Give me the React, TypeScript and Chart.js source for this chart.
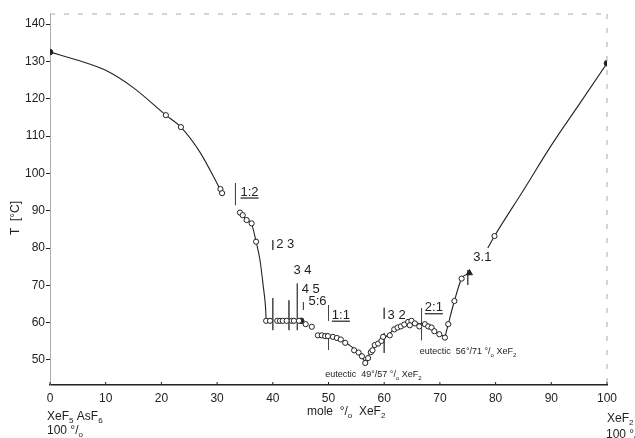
import React, { useEffect, useRef } from "react";
import { Chart, registerables } from "chart.js";
Chart.register(...registerables);

const FAMILY = "'Liberation Sans Narrow', 'Liberation Sans', 'DejaVu Sans', sans-serif";

const xTicks = [0, 10, 20, 30, 40, 50, 60, 70, 80, 90, 100];
const yTicks = [50, 60, 70, 80, 90, 100, 110, 120, 130, 140];

// liquidus curve traces
const curveAX = [0, 5, 10, 15, 20.8, 23.5, 27, 30.7];
const curveAY = [132.5, 130.3, 127.6, 122.9, 115.6, 112.4, 105.5, 95.3];
const curveBX = [34.3, 35.3, 36.2, 37, 37.7, 38.3, 38.7, 38.8];
const curveBY = [89.3, 87.5, 86.4, 81.7, 76.8, 69.6, 64, 60.8];
const curveC1X = [48, 50, 52, 54, 55.5, 56.6];
const curveC1Y = [56.8, 56.4, 55.6, 53.7, 51.8, 49.4];
const curveC2X = [56.6, 57.5, 59, 60.5, 62, 63.5, 65, 66.5, 68, 69.5, 70.9];
const curveC2Y = [49.4, 52, 54.6, 56.5, 58.4, 59.6, 60.1, 59.7, 58.8, 57.4, 56.1];
const curveC3X = [70.9, 71.5, 72.6, 73.9, 75.3];
const curveC3Y = [56.1, 59.6, 65.8, 71.8, 73.3];
const curveDX = [78.6, 79.8, 85, 90, 95, 100];
const curveDY = [80, 83.2, 95.5, 107.5, 118.5, 129.5];

// measured points (open circles)
const ptX = [20.8, 23.5, 30.6, 30.9, 34.1, 34.6, 35.3, 36.2, 37,
  48.1, 48.8, 49.4, 49.9, 50.8, 51.5, 52.2, 53, 54.6, 55.4, 56, 56.6, 57.1, 57.6, 57.9, 58.3, 58.9, 59.5, 59.8,
  61, 61.8, 62.4, 63, 63.6, 64.3, 64.9, 64.6, 65.5, 66.3, 67.3, 67.9, 68.5, 69, 69.9, 70.9, 71.5, 72.6, 73.9, 79.8];
const ptY = [115.6, 112.4, 95.8, 94.7, 89.5, 88.8, 87.5, 86.6, 81.7,
  56.6, 56.6, 56.4, 56.4, 56.2, 55.9, 55.5, 54.6, 52.6, 52, 51, 49.2, 50.5, 52.1, 52.6, 54, 54.4, 55.1, 56.2,
  56.6, 58.2, 58.7, 59, 59.5, 60.2, 60.5, 59.3, 59.8, 59, 59.6, 59, 58.7, 57.7, 56.9, 56, 59.6, 65.8, 71.8, 83.2];
// plateau points (open circles, no line)
const plateauX = [38.8, 39.5, 40.8, 41.3, 41.8, 42.5, 43.4, 43.8, 44.7, 45.9, 47.0];
const plateauY = [60.5, 60.5, 60.5, 60.5, 60.5, 60.5, 60.5, 60.5, 60.5, 59.6, 58.9];
// filled points
const filledX = [0, 100, 45.1];
const filledY = [132.5, 129.5, 60.5];
const triX = [75.3];
const triY = [73.3];

// composition markers (vertical bars)
const markX = [33.3, 40, 40, 42.9, 44.4, 45.5, 50, 50, 60, 60, 66.7, 75];
const markTop = [97.4, 82.1, 66.6, 66, 70.5, 65.5, 64.7, 56.2, 64, 57.2, 63.9, 74.1];
const markBot = [91.5, 79.5, 58, 58, 58, 63.4, 60.5, 52.7, 61, 51.9, 55.3, 70.1];

// composition labels
const labelText = ["1:2", "2 3", "3 4", "4 5", "5:6", "1:1", "3 2", "2:1", "3.1"];
const labelX = [34.2, 40.6, 43.7, 45.2, 46.4, 50.6, 60.6, 67.3, 76];
const labelY = [95, 81, 74.1, 69, 65.8, 62, 62, 64, 77.6];
const labelUnder = [true, false, false, false, false, true, false, true, false];

// eutectic notes
const eutTemp = ["49", "56"];
const eutComp = ["57", "71"];
const eutX = [49.4, 66.4];
const eutY = [46.2, 52.4];

const zip = (xs: number[], ys: number[]) => xs.map((x, i) => ({ x, y: ys[i] }));

function drawRich(ctx: CanvasRenderingContext2D, x: number, y: number, parts: Array<[string, boolean]>, size: number) {
  let cx = x;
  for (const [t, sub] of parts) {
    const s = sub ? Math.round(size * 0.68) : size;
    ctx.font = `${s}px ${FAMILY}`;
    ctx.fillText(t, cx, sub ? y + size * 0.28 : y);
    cx += ctx.measureText(t).width;
  }
}

export default function App() {
  const ref = useRef<HTMLCanvasElement | null>(null);
  useEffect(() => {
    document.body.style.margin = "0";
    const canvas = ref.current!;
    const ink = "#222";
    const lineDs = (xs: number[], ys: number[]) => ({
      type: "line" as const,
      data: zip(xs, ys),
      borderColor: ink,
      borderWidth: 1.1,
      pointRadius: 0,
      cubicInterpolationMode: "monotone" as const,
      fill: false,
      order: 2,
    });
    const markData: any[] = [];
    markX.forEach((x, i) => {
      markData.push({ x, y: markTop[i] }, { x, y: markBot[i] }, { x, y: null });
    });

    const overlay = {
      id: "overlay",
      afterDraw(chart: any) {
        const ctx: CanvasRenderingContext2D = chart.ctx;
        const xs = chart.scales.x;
        const ys = chart.scales.y;
        const area = chart.chartArea;
        ctx.save();
        ctx.fillStyle = ink;
        ctx.strokeStyle = ink;
        // frame: top and right dashed
        ctx.lineWidth = 1;
        ctx.strokeStyle = "#aaa";
        ctx.setLineDash([5, 9]);
        ctx.beginPath();
        ctx.moveTo(area.left, area.top);
        ctx.lineTo(area.right, area.top);
        ctx.moveTo(area.right, area.top);
        ctx.lineTo(area.right, area.bottom);
        ctx.stroke();
        ctx.setLineDash([]);
        // small inner ticks on x axis
        ctx.strokeStyle = ink;
        xTicks.forEach((v) => {
          const px = xs.getPixelForValue(v);
          ctx.beginPath();
          ctx.moveTo(px, area.bottom);
          ctx.lineTo(px, area.bottom - 3);
          ctx.stroke();
        });
        // composition labels
        ctx.textBaseline = "middle";
        ctx.textAlign = "left";
        ctx.font = `13px ${FAMILY}`;
        labelText.forEach((t, i) => {
          const px = xs.getPixelForValue(labelX[i]);
          const py = ys.getPixelForValue(labelY[i]);
          ctx.fillText(t, px, py);
          if (labelUnder[i]) {
            const w = ctx.measureText(t).width;
            ctx.lineWidth = 1.2;
            ctx.beginPath();
            ctx.moveTo(px, py + 6);
            ctx.lineTo(px + w, py + 6);
            ctx.stroke();
          }
        });
        // eutectic notes
        ctx.textBaseline = "alphabetic";
        eutTemp.forEach((t, i) => {
          const px = xs.getPixelForValue(eutX[i]);
          const py = ys.getPixelForValue(eutY[i]) + 3;
          drawRich(ctx, px, py, [["eutectic  " + t + "°/" + eutComp[i] + " °/", false], ["o", true], [" XeF", false], ["2", true]], 9);
        });
        // axis titles and end labels
        drawRich(ctx, 307, 415, [["mole  °/", false], ["o", true], ["  XeF", false], ["2", true]], 12);
        drawRich(ctx, 47, 420, [["XeF", false], ["5", true], [" AsF", false], ["6", true]], 12);
        drawRich(ctx, 47, 434, [["100 °/", false], ["o", true]], 12);
        drawRich(ctx, 607, 422, [["XeF", false], ["2", true]], 12);
        drawRich(ctx, 606, 438, [["100 °/", false], ["o", true]], 12);
        // y title
        ctx.save();
        ctx.translate(16, 218);
        ctx.rotate(-Math.PI / 2);
        ctx.textAlign = "center";
        ctx.textBaseline = "middle";
        ctx.font = `12px ${FAMILY}`;
        ctx.fillText("T  [°C]", 0, 0);
        ctx.restore();
        ctx.restore();
      },
    };

    const chart = new Chart(canvas, {
      type: "scatter",
      data: {
        datasets: [
          lineDs(curveAX, curveAY),
          lineDs(curveBX, curveBY),
          lineDs(curveC1X, curveC1Y),
          lineDs(curveC2X, curveC2Y),
          lineDs(curveC3X, curveC3Y),
          lineDs(curveDX, curveDY),
          {
            type: "line",
            data: markData,
            borderColor: "#444",
            borderWidth: 0.8,
            pointRadius: 0,
            spanGaps: false,
            fill: false,
            order: 3,
          } as any,
          {
            data: zip(ptX, ptY),
            pointRadius: 2.6,
            pointBorderWidth: 1,
            pointBorderColor: ink,
            pointBackgroundColor: "#fff",
            order: 0,
          },
          {
            data: zip(plateauX, plateauY),
            pointRadius: 2.6,
            pointBorderWidth: 1,
            pointBorderColor: ink,
            pointBackgroundColor: "#fff",
            order: 0,
          },
          {
            data: zip(filledX, filledY),
            pointRadius: 2.8,
            pointBorderWidth: 1,
            pointBorderColor: ink,
            pointBackgroundColor: ink,
            order: 0,
          },
          {
            data: zip(triX, triY),
            pointStyle: "triangle",
            pointRadius: 3.5,
            pointBorderWidth: 1,
            pointBorderColor: ink,
            pointBackgroundColor: ink,
            order: 0,
          },
        ],
      },
      options: {
        responsive: false,
        animation: false,
        events: [],
        layout: { padding: { top: 14, right: 28, left: 0, bottom: 0 } },
        plugins: { legend: { display: false }, tooltip: { enabled: false } },
        scales: {
          x: {
            type: "linear",
            min: 0,
            max: 100,
            afterBuildTicks: (s: any) => {
              s.ticks = xTicks.map((v) => ({ value: v }));
            },
            afterFit: (s: any) => {
              s.height = 53;
            },
            grid: { display: true, drawOnChartArea: false, drawTicks: false },
            border: { display: true, color: ink, width: 1.5 },
            ticks: { color: ink, font: { size: 12, family: FAMILY }, padding: 6, maxRotation: 0 },
          },
          y: {
            type: "linear",
            min: 43.3,
            max: 142.7,
            afterBuildTicks: (s: any) => {
              s.ticks = yTicks.map((v) => ({ value: v }));
            },
            afterFit: (s: any) => {
              s.width = 50;
            },
            grid: { display: true, drawOnChartArea: false, tickLength: 4, color: ink },
            border: { display: true, color: "#aaa", width: 1, dash: [4, 4] },
            ticks: { color: ink, font: { size: 12, family: FAMILY }, padding: 1 },
          },
        },
      },
      plugins: [overlay],
    } as any);
    return () => chart.destroy();
  }, []);
  return (
    <div style={{ width: 635, height: 438 }}>
      <canvas ref={ref} width={635} height={438} style={{ display: "block" }} />
    </div>
  );
}
